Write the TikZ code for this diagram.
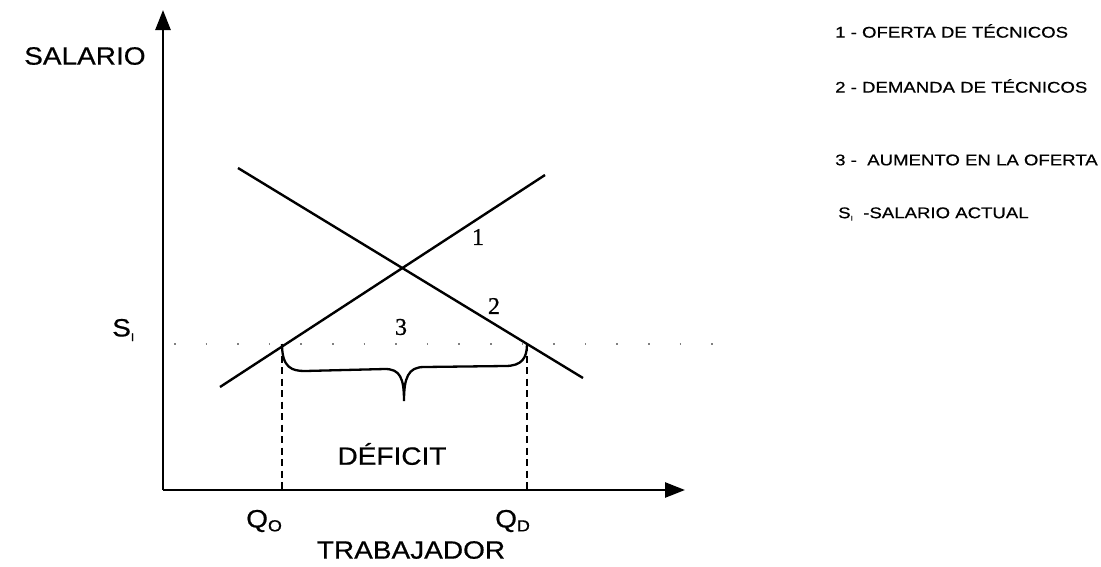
\documentclass[tikz,border=0pt]{standalone}
\usepackage{fontspec}
\setmainfont{Liberation Serif}[FakeBold=0.8]
\newfontfamily\lab[FakeStretch=1.12,FakeBold=0.6]{Liberation Sans}
\newfontfamily\leg[FakeStretch=1.2,FakeBold=0.6]{Liberation Sans}
\usetikzlibrary{arrows.meta}
\begin{document}
\begin{tikzpicture}[x=1pt,y=-1pt,
  axis/.style={line width=2.6pt,-{Triangle[length=20pt,width=15pt]}},
  curve/.style={line width=2.4pt},
  lbl/.style={font=\lab\fontsize{25}{27}\selectfont,inner sep=0pt},
  legtxt/.style={font=\leg\fontsize{15.5}{17}\selectfont,inner sep=0pt,anchor=west},
  num/.style={font=\fontsize{24}{26}\selectfont,inner sep=0pt},
  dline/.style={line width=2pt,dash pattern=on 7pt off 4.5pt},
  dotl/.style={line width=1.6pt,gray,dash pattern=on 1.6pt off 30pt}]
\useasboundingbox (0,0) rectangle (1101,566);
% axes
\coordinate (O) at (163,490);
\coordinate (Ytop) at (163,10);
\coordinate (Xend) at (685,490);
\draw[axis] (O) -- (Ytop);
\draw[axis] (O) -- (Xend);
% supply and demand
\coordinate (s1) at (220,387);
\coordinate (s2) at (545,175);
\coordinate (d1) at (238,168);
\coordinate (d2) at (583,378);
\draw[curve] (s1) -- (s2);
\draw[curve] (d1) -- (d2);
% current salary dotted line
\coordinate (dl) at (174,344);
\coordinate (dr) at (740,344);
\draw[dotl] (dl) -- (dr);
% quantity points
\coordinate (qo) at (282,344);
\coordinate (qd) at (527,344);
\coordinate (qoa) at (282,490);
\coordinate (qda) at (527,490);
\draw[dline] (qo) -- (qoa);
\draw[dline] (qd) -- (qda);
\draw[line width=1.4pt] (qoa) -- ++(0,-6);
\draw[line width=1.4pt] (qda) -- ++(0,-6);
% brace
\coordinate (btip) at (404,401);
\draw[line width=2.3pt] (qo) .. controls (282,368) and (292,371) .. (305,371)
  -- (385,369) .. controls (400,369) and (404,378) .. (btip)
  .. controls (404,378) and (408,367) .. (424,367)
  -- (505,366) .. controls (522,366) and (527,358) .. (qd);
% labels
\node[lbl,anchor=west] (sal) at (24,56) {SALARIO};
\node[lbl,anchor=west] (si) at (112,330) {S\raisebox{-0.35ex}{\fontsize{11}{12}\selectfont I}};
\node[lbl,anchor=west] (qol) at (246,521) {Q\raisebox{-0.3ex}{\fontsize{16}{17}\selectfont O}};
\node[lbl,anchor=west] (qdl) at (495,521) {Q\raisebox{-0.3ex}{\fontsize{16}{17}\selectfont D}};
\node[lbl] (trab) at (411,550) {TRABAJADOR};
\node[lbl] (def) at (392,454) {DÉFICIT};
\node[num] (n1) at (478,237) {1};
\node[num] (n2) at (494,306) {2};
\node[num] (n3) at (401,327) {3};
% legend
\node[legtxt] (l1) at (835,31) {1 - OFERTA DE TÉCNICOS};
\node[legtxt] (l2) at (835,86) {2 - DEMANDA DE TÉCNICOS};
\node[legtxt] (l3) at (835,160) {3 -\ \ AUMENTO EN LA OFERTA};
\node[legtxt] (l4) at (838,214) {S\raisebox{-0.3ex}{\fontsize{7}{8}\selectfont I}\ \ -SALARIO ACTUAL};
\end{tikzpicture}
\end{document}
